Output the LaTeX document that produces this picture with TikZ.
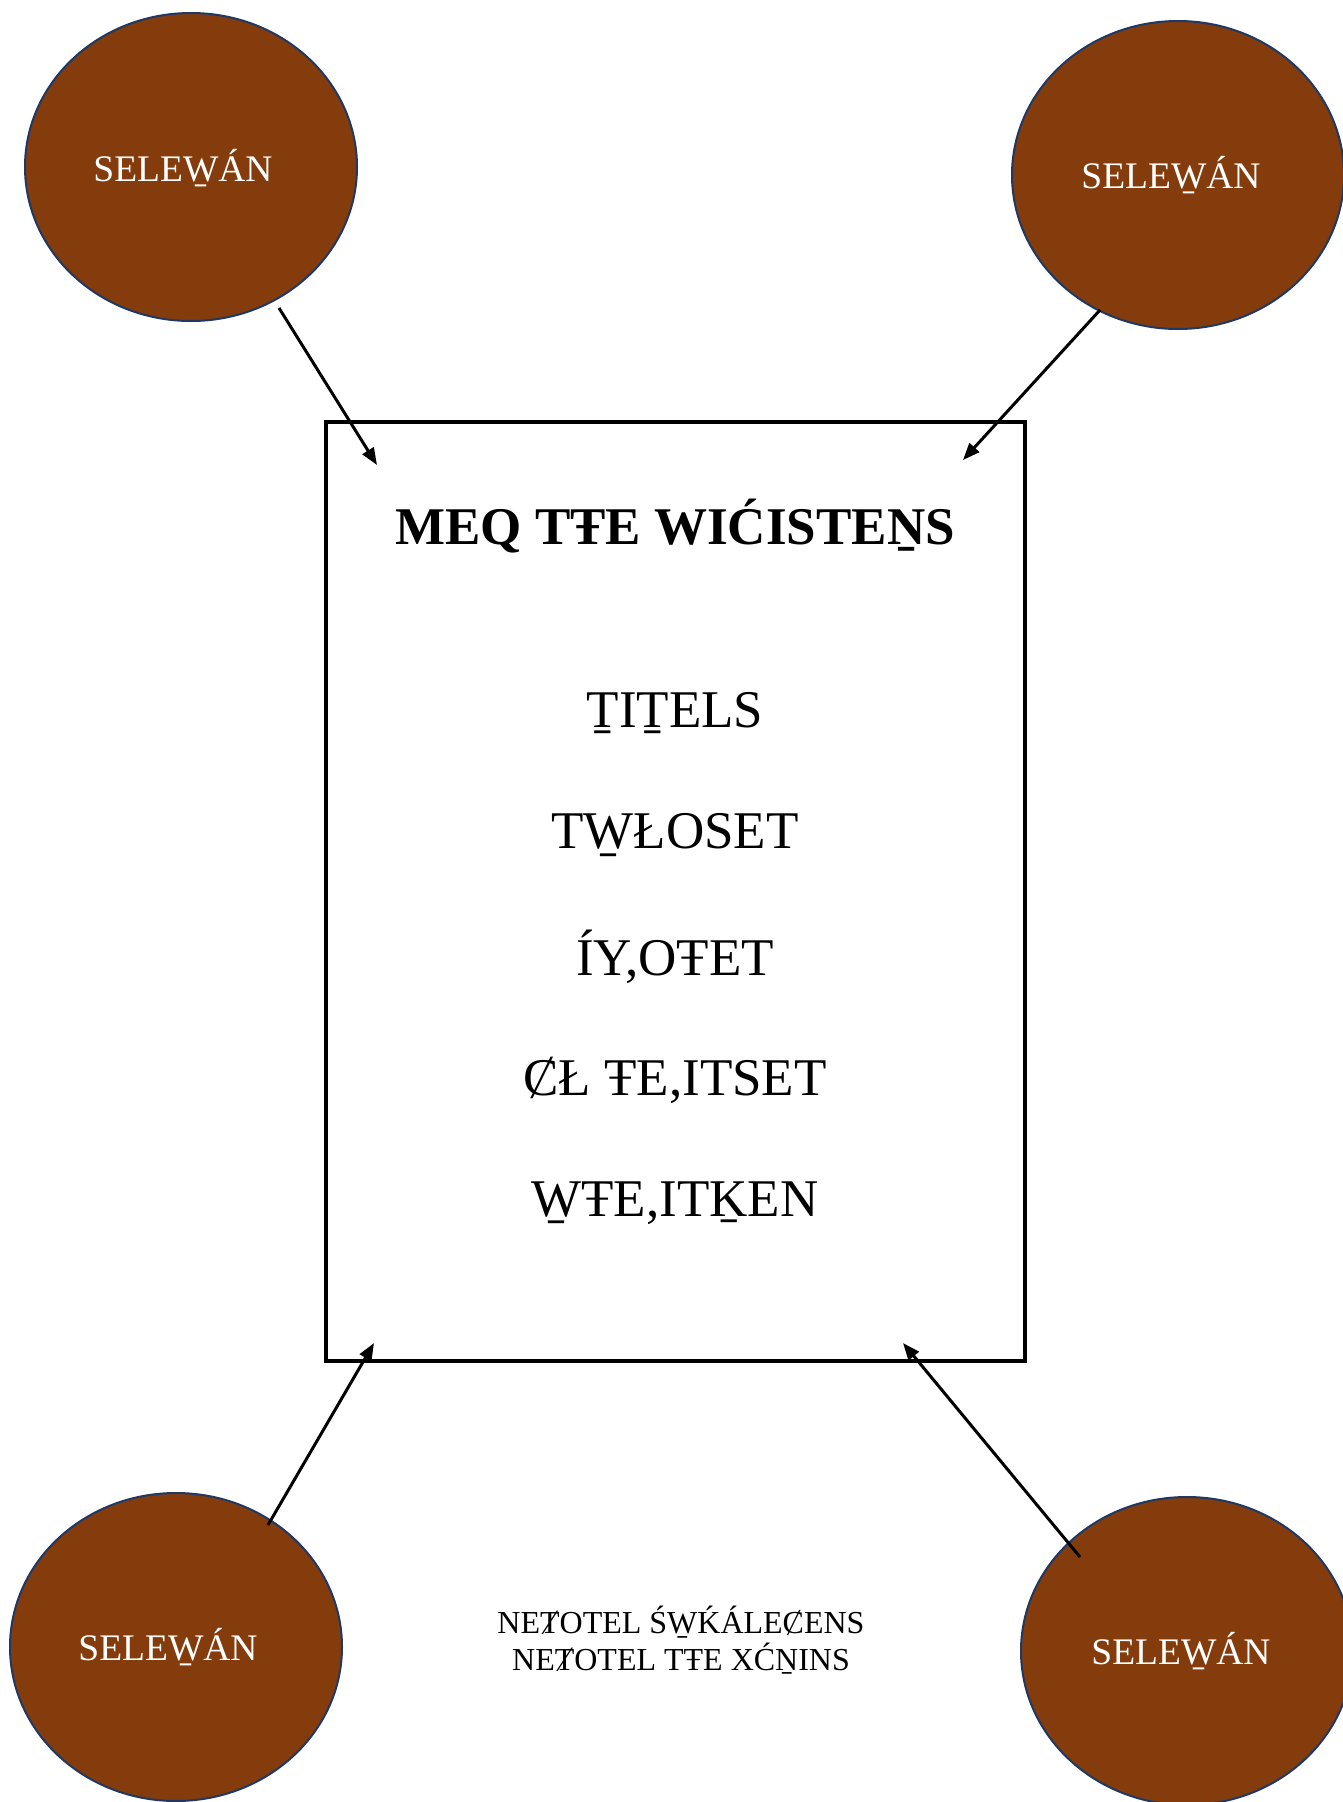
\documentclass[tikz,border=0pt]{standalone}
\usepackage{fontspec}
\setmainfont{Liberation Serif}
\usetikzlibrary{shapes.geometric,arrows.meta}
\definecolor{bubblefill}{HTML}{843C0C}
\definecolor{bubbleline}{HTML}{1F3864}
\tikzset{
  bubble/.style={ellipse, fill=bubblefill, draw=bubbleline, line width=2pt,
    minimum width=332pt, minimum height=308pt, inner sep=0pt},
  bubbletext/.style={text=white, font=\fontsize{37.5}{42}\selectfont},
  frame/.style={draw=black, line width=3.3pt, minimum width=699pt, minimum height=939pt, inner sep=0pt},
  item/.style={font=\fontsize{53}{60}\selectfont},
  link/.style={draw=black, line width=3pt, -{Triangle[length=17pt,width=13pt]}}
}
\begin{document}
\begin{tikzpicture}[x=1pt,y=-1pt]
  \useasboundingbox (0,0) rectangle (1343,1802);
  \clip (0,0) rectangle (1343,1802);

  % four bubbles round the frame
  \node[bubble] (tl) at (191,167) {};
  \node[bubble] (tr) at (1178,175) {};
  \node[bubble] (bl) at (176,1647) {};
  \node[bubble] (br) at (1187,1651) {};
  \node[bubbletext] (tlt) at (183,168) {SELEW̱ÁN};
  \node[bubbletext] (trt) at (1171,175) {SELEW̱ÁN};
  \node[bubbletext] (blt) at (168,1647) {SELEW̱ÁN};
  \node[bubbletext] (brt) at (1181,1651) {SELEW̱ÁN};

  % central frame with its list
  \node[frame] (box) at (675.5,891.5) {};
  \node[font=\bfseries\fontsize{53}{60}\selectfont] (title) at (675,526) {MEQ TŦE WIĆISTEṈS};
  \node[item] (i1) at (675,713) {ṮIṮELS};
  \node[item] (i2) at (675,835) {TW̱ŁOSET};
  \node[item] (i3) at (675,957) {ÍY,OŦET};
  \node[item] (i4) at (675,1080) {ȻŁ ŦE,ITSET};
  \node[item] (i5) at (675,1203) {W̱ŦE,ITḴEN};

  % caption below the frame
  \node[font=\fontsize{32}{36.5}\selectfont, align=center] (note) at (681,1640)
    {NEȾOTEL ŚW̱ḰÁLEȻENS\\NEȾOTEL TŦE XĆṈINS};

  % arrow ends
  \coordinate (a1s) at (279,308);  \coordinate (a1e) at (377,465);
  \coordinate (a2s) at (1100,310); \coordinate (a2e) at (963,460);
  \coordinate (a3s) at (268,1525); \coordinate (a3e) at (374,1343);
  \coordinate (a4s) at (1080,1557); \coordinate (a4e) at (903,1343);

  \draw[link] (a1s) -- (a1e);
  \draw[link] (a2s) -- (a2e);
  \draw[link] (a3s) -- (a3e);
  \draw[link] (a4s) -- (a4e);
\end{tikzpicture}
\end{document}
